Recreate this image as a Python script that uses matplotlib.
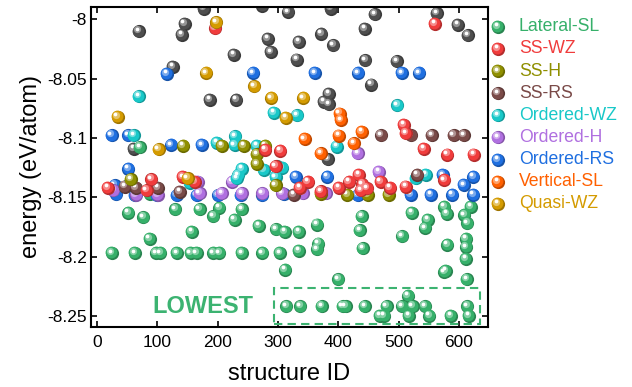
import matplotlib
matplotlib.use("Agg")
import matplotlib.pyplot as plt
from matplotlib.colors import to_rgb
from matplotlib.patches import Rectangle
from matplotlib.ticker import FuncFormatter
from matplotlib.transforms import ScaledTranslation

plt.rcParams["font.family"] = ["Liberation Sans", "DejaVu Sans"]

# ---- data (structure ID, energy eV/atom) ----
lateral_x = [25, 52, 63, 77, 87, 98, 105, 130, 132, 157, 155, 165, 170, 193, 203,
             193, 203, 228, 240, 240, 268, 274, 297, 311, 303, 312, 335, 335, 365,
             367, 365, 400, 439, 436, 441, 506, 522, 548, 544, 576, 580, 581, 576,
             578, 609, 620, 614, 612, 612, 611, 613, 71, 88,
             314, 337, 373, 407, 412, 444, 480, 506, 523, 544, 614, 516,
             469, 476, 517, 551, 587, 616]
lateral_y = [-8.197, -8.163, -8.197, -8.167, -8.185, -8.197, -8.197, -8.160, -8.197,
             -8.179, -8.197, -8.197, -8.160, -8.166, -8.159, -8.197, -8.197, -8.169,
             -8.160, -8.197, -8.174, -8.197, -8.177, -8.179, -8.197, -8.211, -8.179,
             -8.195, -8.173, -8.189, -8.194, -8.219, -8.166, -8.178, -8.193, -8.183,
             -8.163, -8.169, -8.176, -8.158, -8.164, -8.190, -8.213, -8.212, -8.165,
             -8.158, -8.172, -8.185, -8.192, -8.202, -8.219, -8.108, -8.147,
             -8.242, -8.242, -8.242, -8.242, -8.242, -8.242, -8.242, -8.242, -8.242,
             -8.242, -8.242, -8.233,
             -8.250, -8.250, -8.250, -8.250, -8.250, -8.250]

sswz_x = [18, 90, 142, 162, 82, 279, 304, 296, 350, 336, 401, 418, 434, 440, 371,
          448, 470, 486, 509, 512, 542, 581, 625, 576, 512, 560, 196, 437]
sswz_y = [-8.142, -8.135, -8.133, -8.137, -8.144, -8.110, -8.111, -8.124, -8.137,
          -8.142, -8.142, -8.137, -8.131, -8.139, -8.145, -8.1425, -8.137, -8.142,
          -8.089, -8.096, -8.109, -8.114, -8.114, -8.1355, -8.141, -8.004, -8.0076,
          -8.144]

ssh_x = [143, 207, 243, 279, 265, 265, 56, 296, 371, 415, 449, 484]
ssh_y = [-8.1067, -8.1067, -8.1067, -8.1067, -8.1137, -8.122, -8.135, -8.140,
         -8.147, -8.148, -8.148, -8.148]

ssrs_x = [46, 65, 101, 137, 326, 471, 521, 555, 591, 608, 531]
ssrs_y = [-8.141, -8.142, -8.142, -8.1454, -8.148, -8.0977, -8.0977, -8.0977,
          -8.0977, -8.0977, -8.131]

owz_x = [69, 61, 293, 199, 229, 228, 265, 332, 498, 398, 299, 307, 240, 234, 232,
         276, 296, 529, 545, 52, 154]
owz_y = [-8.065, -8.0977, -8.079, -8.104, -8.0986, -8.106, -8.1067, -8.081, -8.0725,
         -8.1073, -8.124, -8.125, -8.126, -8.1313, -8.134, -8.127, -8.133, -8.134,
         -8.131, -8.140, -8.138]

oh_x = [27, 65, 101, 167, 170, 207, 224, 240, 274, 307, 341, 379, 432, 467]
oh_y = [-8.144, -8.148, -8.148, -8.137, -8.1467, -8.1467, -8.137, -8.1467, -8.1467,
        -8.1467, -8.1467, -8.1467, -8.1131, -8.1286]

ors_x = [24, 52, 116, 259, 123, 174, 52, 361, 433, 505, 534, 29, 32, 330, 382, 310,
         520, 553, 589, 624, 573, 608, 624, 63, 99, 132, 165, 201, 238, 274, 432]
ors_y = [-8.0977, -8.0977, -8.0459, -8.0454, -8.106, -8.106, -8.126, -8.0454,
         -8.0454, -8.0454, -8.0454, -8.140, -8.1475, -8.1328, -8.1328, -8.1475,
         -8.148, -8.148, -8.148, -8.148, -8.1313, -8.1397, -8.1328, -8.1485, -8.1485,
         -8.1485, -8.1485, -8.1485, -8.1485, -8.1485, -8.1485]

vsl_x = [402, 404, 344, 401, 439, 371, 426]
vsl_y = [-8.0795, -8.085, -8.101, -8.098, -8.095, -8.113, -8.1047]

qwz_x = [198, 181, 261, 289, 34, 102, 342, 313, 150]
qwz_y = [-8.0025, -8.0454, -8.0566, -8.0664, -8.0823, -8.1095, -8.0664, -8.0829,
         -8.134]

other_x = [69, 145, 141, 177, 126, 187, 231, 227, 283, 288, 61, 317, 388, 335, 372,
           392, 331, 444, 461, 445, 497, 455, 563, 598, 615, 384, 376, 384, 383, 274]
other_y = [-8.0103, -8.0039, -8.0131, -7.991, -8.040, -8.068, -8.068, -8.030,
           -8.0165, -8.0277, -8.109, -7.994, -7.991, -8.019, -8.0123, -8.022, -8.034,
           -8.008, -7.996, -8.0347, -8.0355, -8.055, -7.995, -8.0047, -8.0137,
           -8.0627, -8.0697, -8.0717, -8.118, -7.9885]

labels = ["Lateral-SL", "SS-WZ", "SS-H", "SS-RS", "Ordered-WZ", "Ordered-H",
          "Ordered-RS", "Vertical-SL", "Quasi-WZ"]
colors = ["#36b06a", "#f03c3c", "#8f8f00", "#7a4a48", "#18c8c8", "#b070e0",
          "#1f6fe0", "#ff6000", "#d49b00"]
other_color = "#4e4e4e"

series = {
    "Lateral-SL": (lateral_x, lateral_y),
    "SS-WZ": (sswz_x, sswz_y),
    "SS-H": (ssh_x, ssh_y),
    "SS-RS": (ssrs_x, ssrs_y),
    "Ordered-WZ": (owz_x, owz_y),
    "Ordered-H": (oh_x, oh_y),
    "Ordered-RS": (ors_x, ors_y),
    "Vertical-SL": (vsl_x, vsl_y),
    "Quasi-WZ": (qwz_x, qwz_y),
}
draw_order = ["Lateral-SL", "Ordered-RS", "Ordered-H", "Ordered-WZ", "Vertical-SL",
              "SS-RS", "SS-H", "SS-WZ", "Quasi-WZ"]

fig = plt.figure(figsize=(6.32, 3.87), dpi=100)
ax = fig.add_axes([0.144, 0.156, 0.628, 0.825])


def mix(c, other, t):
    a = to_rgb(c)
    b = to_rgb(other)
    return tuple(a[i] * (1 - t) + b[i] * t for i in range(3))


def balls(axis, xs, ys, color, s=90, z=3, base=None):
    # shaded sphere: darker rim, body, soft light, white spot
    base = base if base is not None else axis.transData

    def off(dx, dy):
        return base + ScaledTranslation(dx / 72, dy / 72, fig.dpi_scale_trans)

    axis.scatter(xs, ys, s=s, color=mix(color, "black", 0.25), linewidths=0,
                 transform=base, zorder=z)
    axis.scatter(xs, ys, s=s * 0.8, color=color, linewidths=0,
                 transform=off(-0.45, 0.45), zorder=z)
    axis.scatter(xs, ys, s=s * 0.3, color=mix(color, "white", 0.4), linewidths=0,
                 transform=off(-1.3, 1.5), zorder=z)
    axis.scatter(xs, ys, s=s * 0.08, color="white", linewidths=0,
                 transform=off(-1.5, 1.8), zorder=z)


balls(ax, other_x, other_y, other_color, z=2)
for i, name in enumerate(draw_order):
    xs, ys = series[name]
    balls(ax, xs, ys, colors[labels.index(name)], z=3 + i)

ax.set_xlim(-10, 648)
ax.set_ylim(-8.259, -7.990)
ax.set_xticks([0, 100, 200, 300, 400, 500, 600])
ax.set_yticks([-8.25, -8.2, -8.15, -8.1, -8.05, -8.0])
ax.yaxis.set_major_formatter(FuncFormatter(lambda v, p: "{:g}".format(round(v, 3))))
ax.tick_params(direction="in", top=True, right=True, length=4.5, width=1.2,
               labelsize=12.5)
ax.tick_params(axis="x", pad=6)
ax.tick_params(axis="y", pad=3)
for sp in ax.spines.values():
    sp.set_linewidth(1.5)

ax.set_xlabel("structure ID", fontsize=17, labelpad=9.5)
ax.set_ylabel("energy (eV/atom)", fontsize=17, labelpad=4)

# lowest-energy box
ax.add_patch(Rectangle((294, -8.2566), 341, 0.030, fill=False, edgecolor="#3cb371",
                       linestyle=(0, (4, 2.5)), linewidth=1.5, zorder=20))
ax.text(176, -8.242, "LOWEST", color="#3cb371", fontsize=17, fontweight="bold",
        ha="center", va="center", zorder=20)

# legend drawn outside on the right, in pixel space
lax = fig.add_axes([0, 0, 1, 1])
lax.set_xlim(0, 632)
lax.set_ylim(387, 0)
lax.axis("off")
row_y = [26.7 + 22.15 * k for k in range(len(labels))]
for k, (lab, col) in enumerate(zip(labels, colors)):
    balls(lax, [498], [row_y[k]], col, s=90, z=3, base=lax.transData)
    lax.text(519, row_y[k], lab, color=col, fontsize=12.7, va="center", ha="left")

fig.savefig("out.png", dpi=100)
